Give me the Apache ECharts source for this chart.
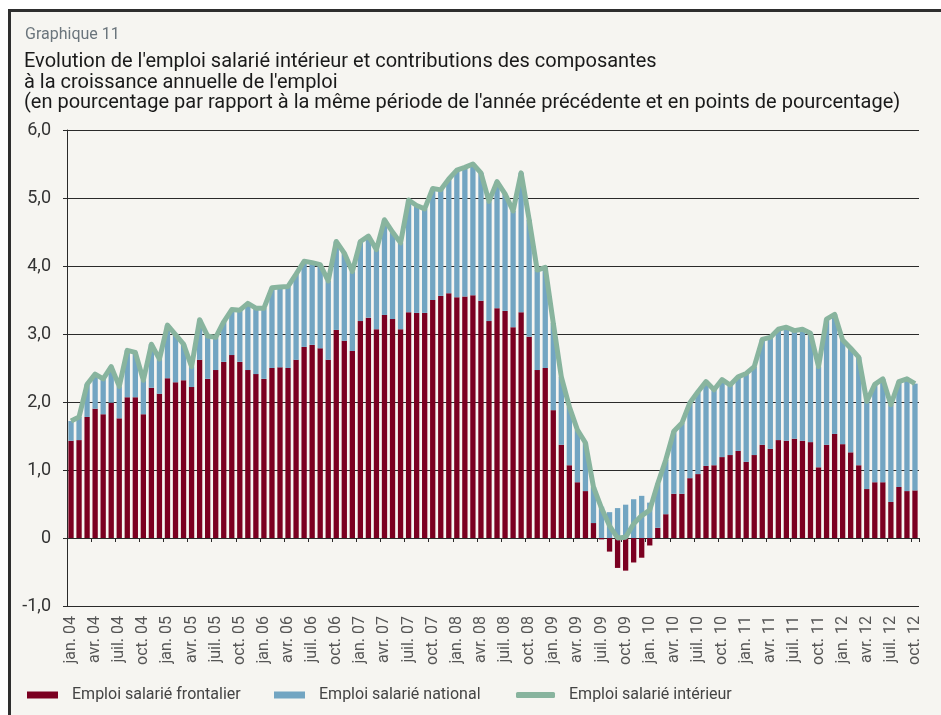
<!DOCTYPE html>
<html>
<head>
<meta charset="utf-8">
<script src="https://cdn.jsdelivr.net/npm/echarts@6/dist/echarts.min.js"></script>
<style>
    html, body { margin: 0; padding: 0; background: #ffffff; }
    #frame {
        position: absolute; left: 8px; top: 9px; width: 933px; height: 706px;
        box-sizing: border-box;
        border-left: 3px solid #2e2e2e; border-top: 3px solid #2e2e2e;
        background: #f6f5f1;
    }
    #chart { position: absolute; left: 0; top: 0; width: 941px; height: 715px; }
</style>
</head>
<body>
<div id="frame"></div>
<div id="chart"></div>
<script>
// mois affichés : jan. 04 -> oct. 12
var monthNames = ['jan.', 'févr.', 'mars', 'avr.', 'mai', 'juin', 'juil.', 'août', 'sept.', 'oct.', 'nov.', 'déc.'];
var years = ['04', '05', '06', '07', '08', '09', '10', '11', '12'];
var yTicks = [-1, 0, 1, 2, 3, 4, 5, 6];

// contributions (points de pourcentage)
var frontalier = [
    1.43, 1.44, 1.78, 1.90, 1.82, 1.99, 1.76, 2.07, 2.07, 1.82, 2.21, 2.12,
    2.35, 2.29, 2.32, 2.22, 2.62, 2.34, 2.47, 2.59, 2.69, 2.59, 2.47, 2.41,
    2.34, 2.50, 2.51, 2.50, 2.62, 2.81, 2.84, 2.79, 2.62, 3.06, 2.90, 2.75,
    3.19, 3.24, 3.07, 3.28, 3.22, 3.07, 3.32, 3.31, 3.31, 3.50, 3.56, 3.60,
    3.54, 3.55, 3.57, 3.49, 3.19, 3.38, 3.34, 3.10, 3.32, 2.96, 2.47, 2.50,
    1.88, 1.37, 1.07, 0.82, 0.69, 0.22, -0.02, -0.20, -0.44, -0.48, -0.36, -0.29,
    -0.11, 0.15, 0.35, 0.65, 0.65, 0.88, 0.94, 1.06, 1.07, 1.19, 1.22, 1.28,
    1.12, 1.22, 1.37, 1.31, 1.44, 1.43, 1.46, 1.43, 1.41, 1.04, 1.37, 1.53,
    1.38, 1.26, 1.07, 0.72, 0.82, 0.82, 0.53, 0.75, 0.69, 0.70
];
var national = [
    0.29, 0.34, 0.48, 0.51, 0.52, 0.53, 0.47, 0.69, 0.66, 0.50, 0.64, 0.51,
    0.78, 0.70, 0.53, 0.30, 0.59, 0.63, 0.48, 0.59, 0.67, 0.76, 0.98, 0.97,
    1.04, 1.18, 1.18, 1.20, 1.26, 1.26, 1.21, 1.23, 1.16, 1.30, 1.29, 1.17,
    1.17, 1.20, 1.17, 1.40, 1.28, 1.27, 1.65, 1.58, 1.53, 1.64, 1.56, 1.68,
    1.87, 1.90, 1.93, 1.88, 1.76, 1.86, 1.72, 1.71, 2.05, 1.72, 1.47, 1.48,
    1.28, 1.00, 0.86, 0.77, 0.71, 0.53, 0.46, 0.38, 0.44, 0.49, 0.57, 0.62,
    0.52, 0.65, 0.80, 0.92, 1.04, 1.11, 1.21, 1.24, 1.11, 1.14, 1.03, 1.09,
    1.30, 1.30, 1.55, 1.64, 1.63, 1.67, 1.59, 1.64, 1.60, 1.48, 1.85, 1.76,
    1.53, 1.53, 1.59, 1.29, 1.44, 1.52, 1.43, 1.55, 1.65, 1.57
];
// emploi salarié intérieur (% a/a)
var interieur = [
    1.72, 1.78, 2.26, 2.41, 2.34, 2.52, 2.23, 2.76, 2.73, 2.32, 2.85, 2.63,
    3.13, 2.99, 2.85, 2.52, 3.21, 2.97, 2.95, 3.18, 3.36, 3.35, 3.45, 3.38,
    3.38, 3.68, 3.69, 3.70, 3.88, 4.07, 4.05, 4.02, 3.78, 4.36, 4.19, 3.92,
    4.36, 4.44, 4.24, 4.68, 4.50, 4.34, 4.97, 4.89, 4.84, 5.14, 5.12, 5.28,
    5.41, 5.45, 5.50, 5.37, 4.95, 5.24, 5.06, 4.81, 5.37, 4.68, 3.94, 3.98,
    3.16, 2.37, 1.93, 1.59, 1.40, 0.75, 0.44, 0.18, 0.00, 0.01, 0.21, 0.33,
    0.41, 0.80, 1.15, 1.57, 1.69, 1.99, 2.15, 2.30, 2.18, 2.33, 2.25, 2.37,
    2.42, 2.52, 2.92, 2.95, 3.07, 3.10, 3.05, 3.07, 3.01, 2.52, 3.22, 3.29,
    2.91, 2.79, 2.66, 2.01, 2.26, 2.34, 1.96, 2.30, 2.34, 2.27
];

var months = [];
years.forEach(function (y) {
    monthNames.forEach(function (m) {
        if (months.length < frontalier.length) months.push(m + ' ' + y);
    });
});

var RED = '#7b0021';
var BLUE = '#72a5c2';
var GREEN = '#88b49e';
var FONT = 'Roboto';

var myChart = echarts.init(document.getElementById('chart'));

function legendBox(name, left, icon, w, h) {
    return {
        left: left, top: 687, padding: 0, itemWidth: w, itemHeight: h,
        data: [{ name: name, icon: icon }],
        textStyle: { fontFamily: FONT, fontSize: 16, color: '#444', padding: [0, 0, 0, 9] }
    };
}

var option = {
    backgroundColor: 'transparent',
    animation: false,
    title: [
        {
            text: 'Graphique 11',
            left: 25, top: 26, padding: 0,
            textStyle: { fontFamily: FONT, fontSize: 16, fontWeight: 'normal', color: '#6b757c', lineHeight: 17 }
        },
        {
            text: "Evolution de l'emploi salarié intérieur et contributions des composantes\nà la croissance annuelle de l'emploi\n(en pourcentage par rapport à la même période de l'année précédente et en points de pourcentage)",
            left: 24, top: 52, padding: 0,
            textStyle: { fontFamily: FONT, fontSize: 20, fontWeight: 'normal', color: '#1a1a1a', lineHeight: 20.5 }
        }
    ],
    legend: [
        legendBox('Emploi salarié frontalier', 27, 'rect', 31, 7),
        legendBox('Emploi salarié national', 274, 'rect', 31, 7),
        legendBox('Emploi salarié intérieur', 516, 'roundRect', 39, 6)
    ],
    grid: { left: 67, right: 22, top: 130, bottom: 109, containLabel: false },
    xAxis: [
        {
            type: 'category',
            data: months,
            boundaryGap: true,
            axisLine: { onZero: true, lineStyle: { color: '#2a2a2a', width: 1 } },
            axisTick: { show: true, interval: 2, length: 4, lineStyle: { color: '#2a2a2a' } },
            axisLabel: { show: false },
            splitLine: { show: false }
        },
        {
            type: 'category',
            data: months,
            position: 'bottom',
            boundaryGap: true,
            axisLine: { show: false, onZero: false },
            axisTick: { show: false },
            axisLabel: {
                interval: 2, rotate: 90, margin: 10,
                fontFamily: FONT, fontSize: 16, color: '#555'
            },
            splitLine: { show: false }
        }
    ],
    yAxis: {
        type: 'value',
        min: -1, max: 6, interval: 1,
        axisLine: { show: true, lineStyle: { color: '#2a2a2a', width: 1 } },
        axisTick: { show: true, length: 4, lineStyle: { color: '#2a2a2a' } },
        axisLabel: {
            margin: 16, fontFamily: FONT, fontSize: 18, color: '#333',
            formatter: function (v) {
                if (yTicks.indexOf(v) < 0) return '';
                return v === 0 ? '0' : v.toFixed(1).replace('.', ',');
            }
        },
        splitLine: { show: true, lineStyle: { color: '#2a2a2a', width: 1 } }
    },
    series: [
        {
            name: 'Emploi salarié frontalier',
            type: 'bar', stack: 'total', xAxisIndex: 0,
            barCategoryGap: '34%',
            itemStyle: { color: RED },
            data: frontalier
        },
        {
            name: 'Emploi salarié national',
            type: 'bar', stack: 'total', xAxisIndex: 0,
            barCategoryGap: '34%',
            itemStyle: { color: BLUE },
            data: national
        },
        {
            name: 'Emploi salarié intérieur',
            type: 'line', xAxisIndex: 0,
            symbol: 'none', smooth: false, z: 5,
            lineStyle: { color: GREEN, width: 5, join: 'round' },
            itemStyle: { color: GREEN },
            data: interieur
        }
    ]
};

myChart.setOption(option);
</script>
</body>
</html>
